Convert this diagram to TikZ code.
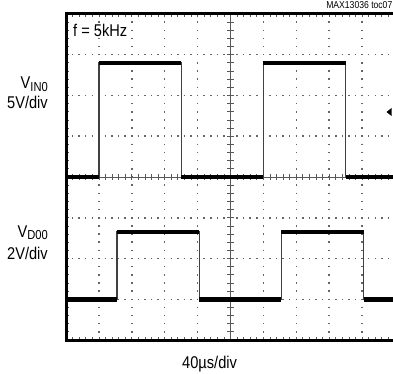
\documentclass[tikz,border=0pt]{standalone}
\usepackage{fontspec}
\setmainfont[FakeStretch=0.86]{Liberation Sans}
\begin{document}
\begin{tikzpicture}[x=1pt,y=-1pt,
  lbl/.style={inner sep=0pt,font=\fontsize{17}{17}\selectfont},
  smalllbl/.style={inner sep=0pt,font=\fontsize{10}{10}\selectfont},
  framebox/.style={line width=3pt,black},
  gridh/.style={black!60,line width=1.5pt,dash pattern=on 1.5pt off 5.08pt,dash phase=0.75pt},
  gridv/.style={black!60,line width=1.5pt,dash pattern=on 1.5pt off 6.65pt,dash phase=0.75pt},
  axisline/.style={black!65,line width=0.8pt},
  edge/.style={black!75,line width=1.2pt},
  level/.style={black,line width=4.5pt},
  marker/.style={black,fill=black}]
\useasboundingbox (0,0) rectangle (393,374);
\begin{scope}[shift={(66,14)},x=32.9pt,y=-40.75pt]
  % dotted grid
  \foreach \i in {1,2,3,4,6,7,8,9} \draw[gridv] (\i,0) -- (\i,8);
  \foreach \j in {1,2,3,5,6,7} \draw[gridh] (0,\j) -- (10,\j);
  % centre axes with minor ticks
  \draw[axisline] (5,0) -- (5,8);
  \draw[axisline] (0,4) -- (10,4);
  \foreach \k in {1,...,49} \draw[axisline] (\k/5,3.92) -- (\k/5,4.08);
  \foreach \k in {1,...,39} \draw[axisline] (4.9,\k/5) -- (5.1,\k/5);
  % frame ticks
  \foreach \k in {1,...,49} {
    \draw[axisline] (\k/5,8) -- (\k/5,7.92);
    \draw[axisline] (\k/5,0) -- (\k/5,0.08);
  }
  \foreach \k in {1,...,39} \draw[axisline] (0,\k/5) -- (0.1,\k/5);
  % VIN0 trace
  \draw[edge] (0,4) -- (1,4) -- (1,1.2) -- (3.5,1.2) -- (3.5,4) -- (6,4) -- (6,1.2) -- (8.5,1.2) -- (8.5,4) -- (10,4);
  \draw[level] (0,4) -- (1,4);
  \draw[level] (1,1.2) -- (3.5,1.2);
  \draw[level] (3.5,4) -- (6,4);
  \draw[level] (6,1.2) -- (8.5,1.2);
  \draw[level] (8.5,4) -- (10,4);
  % VD00 trace
  \draw[edge] (0,7) -- (1.55,7) -- (1.55,5.35) -- (4.05,5.35) -- (4.05,7) -- (6.55,7) -- (6.55,5.35) -- (9.05,5.35) -- (9.05,7) -- (10,7);
  \draw[level] (0,7) -- (1.55,7);
  \draw[level] (1.55,5.35) -- (4.05,5.35);
  \draw[level] (4.05,7) -- (6.55,7);
  \draw[level] (6.55,5.35) -- (9.05,5.35);
  \draw[level] (9.05,7) -- (10,7);
  % frame
  \draw[framebox] (0,0) rectangle (10,8);
\end{scope}
% trigger marker
\fill[marker] (386.5,112) -- (391.5,108) -- (391.5,116) -- cycle;
% labels
\node[lbl,anchor=base west] (freq) at (73,37) {f = 5kHz};
\node[smalllbl,anchor=base east] (toc) at (392.5,8.5) {MAX13036 toc07};
\node[lbl,anchor=base east] (vin) at (48,89) {V\raisebox{-2.5pt}{\fontsize{13}{13}\selectfont IN0}};
\node[lbl,anchor=base east] (vinscale) at (48,109) {5V/div};
\node[lbl,anchor=base east] (vd) at (48,237) {V\raisebox{-2.5pt}{\fontsize{13}{13}\selectfont D00}};
\node[lbl,anchor=base east] (vdscale) at (48,259) {2V/div};
\node[lbl,anchor=base west] (timebase) at (182,368) {40µs/div};
\end{tikzpicture}
\end{document}
